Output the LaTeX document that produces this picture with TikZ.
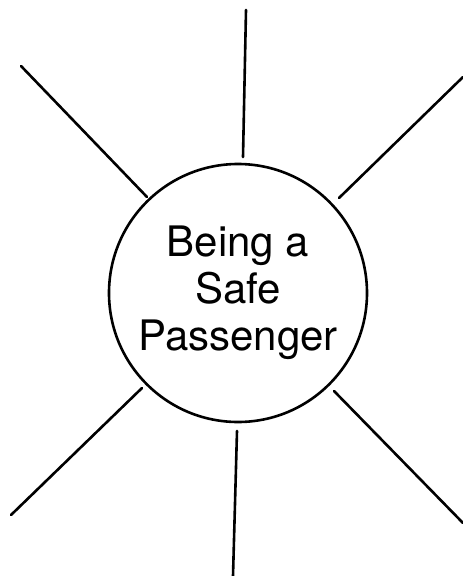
\documentclass[tikz,border=0pt]{standalone}
\usepackage{fontspec}
\setmainfont{TeX Gyre Heros}
\begin{document}
\begin{tikzpicture}[x=1pt, y={(0pt,-1pt)}, line width=2.6pt,
    spoke/.style={draw, line cap=round}]
    \useasboundingbox (0,0) rectangle (463,576);
    \node[draw, circle, minimum size=258pt, inner sep=0pt, align=center,
          font=\fontsize{42}{47}\selectfont] (hub) at (238,293) {Being a\\Safe\\Passenger};

    % inner and outer ends of the spokes
    \coordinate (topin) at (243,157);      \coordinate (topout) at (246,10);
    \coordinate (ulin) at (147,197);       \coordinate (ulout) at (21,66);
    \coordinate (urin) at (339,198);       \coordinate (urout) at (463,77);
    \coordinate (llin) at (142,388);       \coordinate (llout) at (11,515);
    \coordinate (botin) at (237,431);      \coordinate (botout) at (233,576);
    \coordinate (lrin) at (334,391);       \coordinate (lrout) at (463,523);

    \draw[spoke] (topin) -- (topout);
    \draw[spoke] (ulin) -- (ulout);
    \draw[spoke] (urin) -- (urout);
    \draw[spoke] (llin) -- (llout);
    \draw[spoke] (botin) -- (botout);
    \draw[spoke] (lrin) -- (lrout);
\end{tikzpicture}
\end{document}
